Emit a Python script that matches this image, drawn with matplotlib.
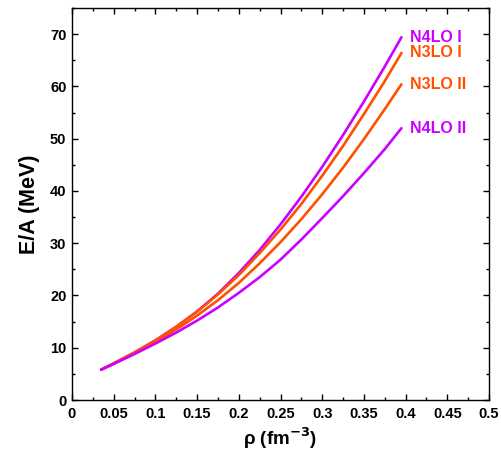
import matplotlib
matplotlib.use("Agg")
import matplotlib.pyplot as plt
from matplotlib.ticker import MultipleLocator, FixedLocator

plt.rcParams['font.family'] = ['Liberation Sans', 'DejaVu Sans']
plt.rcParams['font.weight'] = 'bold'

rho = [0.035, 0.05, 0.075, 0.1, 0.125, 0.15, 0.175, 0.2, 0.225, 0.25,
       0.275, 0.3, 0.325, 0.35, 0.375, 0.395]
n4lo_1 = [5.8, 7.0, 9.1, 11.4, 14.0, 16.95, 20.35, 24.3, 28.7, 33.6,
          38.9, 44.6, 50.7, 57.1, 63.8, 69.4]
n3lo_1 = [5.8, 7.0, 9.1, 11.4, 14.0, 16.9, 20.2, 23.9, 28.1, 32.6,
          37.5, 42.9, 48.6, 54.7, 61.0, 66.4]
n3lo_2 = [5.8, 6.95, 8.95, 11.1, 13.5, 16.15, 19.1, 22.4, 26.15, 30.2,
          34.6, 39.35, 44.45, 49.9, 55.65, 60.4]
n4lo_2 = [5.8, 6.9, 8.8, 10.8, 12.9, 15.2, 17.7, 20.5, 23.5, 26.85,
          30.7, 34.8, 39.0, 43.4, 48.0, 52.0]

series = [
    ("N4LO I", n4lo_1, "#cc00ff"),
    ("N3LO I", n3lo_1, "#ff5000"),
    ("N3LO II", n3lo_2, "#ff5000"),
    ("N4LO II", n4lo_2, "#cc00ff"),
]

x_ticks = [0, 0.05, 0.1, 0.15, 0.2, 0.25, 0.3, 0.35, 0.4, 0.45, 0.5]
x_ticklabels = ["0", "0.05", "0.1", "0.15", "0.2", "0.25", "0.3", "0.35", "0.4", "0.45", "0.5"]
y_ticks = [0, 10, 20, 30, 40, 50, 60, 70]

fig = plt.figure(figsize=(5.02, 4.53), dpi=100)
ax = fig.add_axes([72/502, 1 - 400/453, (489 - 72)/502, (400 - 8)/453])

for name, vals, col in series:
    ax.plot(rho, vals, color=col, lw=1.9, solid_capstyle='round')
    ax.text(rho[-1] + 0.01, vals[-1], name, color=col, fontsize=11.5,
            fontweight='bold', va='center', ha='left')

ax.set_xlim(0, 0.5)
ax.set_ylim(0, 75)
ax.xaxis.set_major_locator(FixedLocator(x_ticks))
ax.set_xticklabels(x_ticklabels)
ax.xaxis.set_minor_locator(MultipleLocator(0.025))
ax.yaxis.set_major_locator(FixedLocator(y_ticks))
ax.yaxis.set_minor_locator(MultipleLocator(5))

ax.tick_params(which='both', direction='in', top=True, right=True, width=1.0)
ax.tick_params(which='major', length=4.5, labelsize=10.5)
ax.tick_params(axis='x', which='major', pad=5)
ax.tick_params(axis='y', which='major', pad=4)
ax.tick_params(which='minor', length=2.5)
for lab in ax.get_xticklabels() + ax.get_yticklabels():
    lab.set_fontweight('bold')
for s in ax.spines.values():
    s.set_linewidth(1.0)

ax.set_xlabel("ρ (fm$^{\\mathbf{-3}}$)", fontsize=13.5, fontweight='bold', labelpad=3)
ax.set_ylabel("E/A (MeV)", fontsize=15.5, fontweight='bold', labelpad=7)

fig.savefig("out.png", dpi=100)
